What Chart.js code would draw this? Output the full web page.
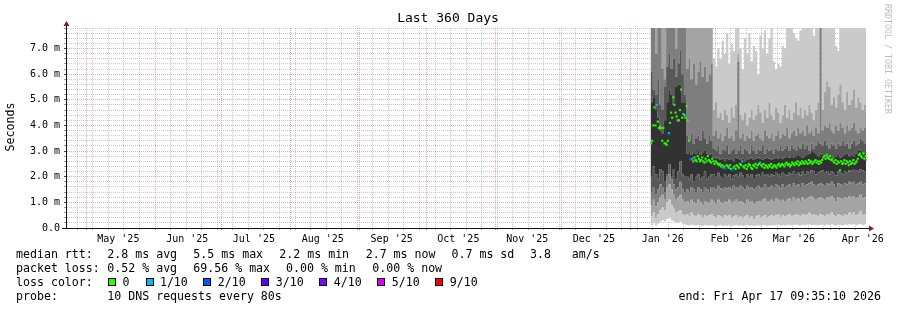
<!DOCTYPE html>
<html>
<head>
<meta charset="utf-8">
<title>Last 360 Days</title>
<script src="https://cdn.jsdelivr.net/npm/chart.js@4.4.1/dist/chart.umd.min.js"></script>
<style>
  body { margin: 0; background: #fff; }
  canvas { display: block; }
</style>
</head>
<body>
<canvas id="smokeChart" width="897" height="310"></canvas>
<script>
// sorted ping times per day (ms), Jan 10 2026 .. Apr 17 2026, one row = one week
const ping1 = [
  0.15, 0.12, 0.2, 0.1, 0.18, 0.25, 0.3,
  0.25, 0.35, 0.4, 0.3, 0.25, 0.2, 0.22,
  0.25, 0.18, 0.15, 0.12, 0.1, 0.14, 0.12,
  0.1, 0.12, 0.1, 0.08, 0.12, 0.1, 0.09,
  0.12, 0.1, 0.08, 0.1, 0.12, 0.08, 0.1,
  0.09, 0.11, 0.08, 0.1, 0.12, 0.09, 0.1,
  0.08, 0.1, 0.12, 0.09, 0.1, 0.08, 0.1,
  0.11, 0.09, 0.1, 0.12, 0.08, 0.1, 0.11,
  0.1, 0.12, 0.14, 0.09, 0.11, 0.1, 0.12,
  0.13, 0.1, 0.12, 0.14, 0.11, 0.1, 0.13,
  0.12, 0.14, 0.15, 0.11, 0.13, 0.12, 0.1,
  0.13, 0.12, 0.1, 0.14, 0.12, 0.15, 0.11,
  0.1, 0.13, 0.12, 0.1, 0.14, 0.12, 0.15,
  0.13, 0.15, 0.11, 0.13, 0.16, 0.12, 0.14
];
const ping2 = [
  0.5, 0.45, 0.6, 0.4, 0.55, 0.7, 0.8,
  0.7, 1.0, 1.1, 0.9, 0.75, 0.6, 0.65,
  0.7, 0.55, 0.5, 0.55, 0.45, 0.6, 0.5,
  0.45, 0.55, 0.5, 0.4, 0.5, 0.45, 0.5,
  0.55, 0.45, 0.4, 0.5, 0.45, 0.4, 0.5,
  0.45, 0.5, 0.4, 0.45, 0.5, 0.4, 0.45,
  0.4, 0.45, 0.5, 0.4, 0.45, 0.35, 0.45,
  0.5, 0.4, 0.45, 0.5, 0.4, 0.45, 0.5,
  0.45, 0.5, 0.55, 0.4, 0.5, 0.45, 0.5,
  0.55, 0.45, 0.5, 0.55, 0.5, 0.45, 0.55,
  0.5, 0.55, 0.6, 0.5, 0.55, 0.5, 0.45,
  0.55, 0.5, 0.45, 0.55, 0.5, 0.6, 0.5,
  0.45, 0.55, 0.5, 0.45, 0.55, 0.5, 0.6,
  0.55, 0.6, 0.5, 0.55, 0.65, 0.5, 0.55
];
const ping3 = [
  1.0, 0.9, 1.1, 0.85, 1.0, 1.2, 1.3,
  1.1, 1.6, 1.7, 1.5, 1.3, 1.1, 1.2,
  1.3, 1.1, 1.0, 1.05, 0.95, 1.1, 1.0,
  0.95, 1.1, 1.0, 0.9, 1.05, 1.0, 0.95,
  1.1, 1.05, 0.95, 1.1, 1.0, 0.95, 1.05,
  1.0, 1.1, 0.95, 1.05, 1.1, 1.0, 1.05,
  1.0, 0.95, 1.1, 1.0, 1.05, 0.95, 1.0,
  1.05, 1.0, 1.1, 1.15, 1.05, 1.0, 1.1,
  1.05, 1.15, 1.1, 1.0, 1.1, 1.05, 1.1,
  1.15, 1.05, 1.2, 1.1, 1.15, 1.05, 1.2,
  1.1, 1.15, 1.2, 1.25, 1.15, 1.1, 1.15,
  1.2, 1.15, 1.1, 1.2, 1.15, 1.25, 1.15,
  1.05, 1.2, 1.15, 1.1, 1.2, 1.15, 1.25,
  1.2, 1.25, 1.15, 1.2, 1.3, 1.15, 1.2
];
const ping4 = [
  1.5, 1.4, 1.6, 1.3, 1.5, 1.7, 1.6,
  1.4, 2.0, 2.1, 1.9, 1.7, 1.5, 1.6,
  1.8, 1.5, 1.4, 1.5, 1.4, 1.6, 1.5,
  1.4, 1.6, 1.5, 1.4, 1.6, 1.5, 1.4,
  1.6, 1.6, 1.5, 1.65, 1.55, 1.5, 1.6,
  1.55, 1.6, 1.5, 1.65, 1.6, 1.55, 1.65,
  1.6, 1.5, 1.65, 1.55, 1.6, 1.5, 1.6,
  1.65, 1.55, 1.6, 1.7, 1.6, 1.55, 1.65,
  1.6, 1.7, 1.65, 1.55, 1.7, 1.6, 1.65,
  1.7, 1.6, 1.75, 1.65, 1.7, 1.6, 1.75,
  1.65, 1.7, 1.75, 1.8, 1.7, 1.65, 1.7,
  1.75, 1.7, 1.65, 1.75, 1.7, 1.8, 1.7,
  1.6, 1.75, 1.7, 1.65, 1.75, 1.7, 1.8,
  1.75, 1.8, 1.7, 1.75, 1.8, 1.7, 1.75
];
const ping5 = [
  2.2, 2.0, 2.4, 2.1, 1.9, 2.3, 2.2,
  1.8, 2.1, 2.5, 2.0, 2.3, 1.9, 2.2,
  2.6, 2.1, 2.0, 2.0, 1.9, 2.1, 1.8,
  2.0, 2.1, 1.9, 2.0, 2.2, 1.9, 2.0,
  2.1, 2.1, 2.0, 2.15, 2.0, 1.95, 2.1,
  2.0, 2.1, 1.9, 2.05, 2.1, 2.0, 2.15,
  2.05, 1.95, 2.1, 2.0, 2.1, 1.95, 2.05,
  2.1, 2.0, 2.15, 2.05, 2.1, 2.0, 2.1,
  2.05, 2.15, 2.1, 2.0, 2.15, 2.1, 2.05,
  2.15, 2.1, 2.2, 2.1, 2.15, 2.05, 2.2,
  2.1, 2.2, 2.15, 2.25, 2.2, 2.1, 2.15,
  2.2, 2.25, 2.15, 2.2, 2.1, 2.2, 2.15,
  2.05, 2.2, 2.15, 2.1, 2.2, 2.15, 2.25,
  2.2, 2.3, 2.25, 2.2, 2.3, 2.25, 2.2
];
const ping6 = [
  4.4, 4.9, 5.1, 4.6, 4.3, 3.8, 3.7,
  4.2, 4.9, 5.4, 5.2, 4.8, 5.5, 5.6,
  5.6, 4.9, 4.9, 2.9, 3.0, 2.85, 2.95,
  2.9, 3.0, 2.85, 2.95, 3.0, 2.9, 2.85,
  2.9, 2.75, 2.7, 2.75, 2.65, 2.7, 2.6,
  2.7, 2.65, 2.7, 2.6, 2.75, 2.7, 2.65,
  2.7, 2.6, 2.65, 2.7, 2.75, 2.65, 2.7,
  2.75, 2.7, 2.65, 2.7, 2.75, 2.7, 2.65,
  2.7, 2.75, 2.7, 2.8, 2.7, 2.75, 2.8,
  2.75, 2.8, 2.75, 2.8, 2.85, 2.8, 2.75,
  2.8, 2.85, 2.9, 3.0, 2.95, 2.85, 2.8,
  2.9, 2.85, 2.8, 2.75, 2.85, 2.8, 2.75,
  2.8, 2.85, 2.75, 2.8, 2.85, 2.9, 2.8,
  2.85, 2.8, 2.9, 3.0, 3.05, 2.95, 2.9
];
const ping7 = [
  5.6, 6.1, 5.4, 5.2, 5.8, 4.8, 4.6,
  5.5, 6.3, 6.8, 6.2, 6.6, 5.9, 6.4,
  6.9, 6.0, 5.2, 3.6, 3.4, 3.7, 3.3,
  3.5, 3.6, 3.4, 3.8, 3.5, 3.3, 3.6,
  3.4, 3.1, 3.0, 3.2, 2.9, 3.1, 3.0,
  3.2, 2.9, 3.0, 3.1, 2.9, 3.0, 3.2,
  2.9, 3.1, 3.0, 2.9, 3.2, 3.0, 2.9,
  3.1, 3.0, 3.2, 2.9, 3.1, 3.0, 3.1,
  2.9, 3.1, 3.0, 3.2, 3.0, 3.1, 3.2,
  3.0, 3.2, 3.1, 3.0, 3.2, 3.1, 3.3,
  3.1, 3.2, 3.0, 3.3, 3.1, 3.2, 3.4,
  3.3, 3.2, 3.4, 3.2, 3.1, 3.3, 3.2,
  3.1, 3.3, 3.2, 3.4, 3.2, 3.3, 3.1,
  3.3, 3.4, 3.2, 3.3, 3.5, 3.4, 3.3
];
const ping8 = [
  8.6, 9.0, 8.4, 6.8, 8.8, 9.1, 6.2,
  5.8, 8.5, 9.2, 8.7, 8.9, 7.0, 8.6,
  9.0, 8.4, 8.8, 6.2, 6.6, 5.8, 6.4,
  5.6, 6.1, 6.5, 5.9, 6.3, 5.7, 6.0,
  6.4, 3.6, 3.8, 3.5, 3.7, 3.4, 3.6,
  3.9, 3.5, 3.6, 3.4, 3.8, 6.5, 3.5,
  3.7, 3.4, 3.6, 3.5, 3.8, 3.4, 3.6,
  3.7, 3.5, 3.4, 3.8, 3.6, 3.5, 3.7,
  3.4, 3.6, 3.8, 3.5, 3.7, 3.6, 3.9,
  3.5, 3.7, 3.8, 3.6, 3.9, 3.7, 3.8,
  3.6, 4.0, 3.7, 3.8, 3.6, 3.9, 3.7,
  9.0, 3.8, 4.0, 3.9, 4.1, 3.8, 3.7,
  4.0, 3.8, 4.1, 3.9, 3.7, 4.0, 3.8,
  3.9, 4.1, 3.8, 3.7, 3.9, 3.8, 3.9
];
const ping9 = [
  10.2, 10.6, 10.4, 10.8, 10.3, 10.5, 10.7,
  10.4, 10.6, 10.3, 10.9, 10.5, 10.7, 10.2,
  10.4, 10.6, 10.1, 9.0, 9.3, 8.8, 9.1,
  9.2, 8.9, 9.4, 9.0, 9.3, 8.7, 9.1,
  9.0, 4.6, 4.9, 4.3, 4.5, 4.2, 4.6,
  4.4, 4.1, 4.7, 4.3, 4.8, 6.8, 4.4,
  4.2, 4.5, 4.0, 4.3, 4.6, 4.2, 4.4,
  4.8, 4.5, 4.1, 4.6, 4.3, 4.9, 4.4,
  4.2, 4.7, 4.5, 4.1, 4.4, 4.8, 4.3,
  4.6, 4.2, 4.5, 4.9, 4.4, 4.7, 4.3,
  4.6, 4.4, 4.8, 4.5, 4.2, 4.6, 4.9,
  9.5, 4.6, 5.3, 5.7, 5.5, 4.8, 5.1,
  4.7, 5.2, 5.6, 4.9, 4.6, 5.3, 4.8,
  5.0, 5.4, 4.7, 5.1, 4.9, 4.6, 4.8
];
const ping10 = [
  11.5, 12.0, 11.8, 12.2, 11.6, 11.9, 12.1,
  11.7, 12.0, 11.8, 12.3, 11.9, 12.0, 11.6,
  11.8, 12.1, 11.9, 10.5, 10.8, 10.2, 10.6,
  10.4, 10.9, 10.3, 10.7, 10.5, 10.2, 10.8,
  10.4, 6.6, 6.3, 7.0, 6.6, 7.3, 6.8,
  7.6, 6.4, 7.2, 6.9, 8.5, 9.0, 7.0,
  6.2, 7.4, 6.8, 7.6, 6.5, 7.1, 6.9,
  6.0, 7.5, 7.0, 7.7, 6.8, 7.4, 8.2,
  6.5, 6.2, 6.4, 6.3, 7.1, 7.0, 8.5,
  9.0, 8.8, 7.6, 7.4, 7.3, 7.7, 8.6,
  9.2, 8.4, 8.8, 9.0, 7.5, 8.7, 9.5,
  10.0, 8.9, 9.1, 8.2, 8.8, 9.3, 8.5,
  7.1, 6.9, 8.4, 8.9, 9.2, 8.3, 9.0,
  8.6, 9.4, 8.8, 9.1, 8.5, 9.0, 8.8
];

// median rtt (ms) every 12 hours from Jan 10 2026
const median = [
  3.3, 3.4, 4.0, 4.7, 4.0, 4.8, 4.15, 3.9, 3.95, 3.9,
  3.4, 3.9, 3.3, 3.3, 3.25, 3.4, 3.7, 4.1, 4.5, 4.3,
  5.1, 4.8, 4.5, 4.35, 4.2, 4.2, 4.6, 5.4, 4.3, 4.45,
  4.4, 4.3, 4.75, 4.2, 3.4, 2.7, 2.65, 2.7, 2.6, 2.75,
  2.65, 2.6, 2.8, 2.7, 2.6, 2.65, 2.75, 2.6, 2.55, 2.7,
  2.6, 2.8, 2.65, 2.6, 2.55, 2.7, 2.6, 2.5, 2.6, 2.55,
  2.5, 2.45, 2.5, 2.4, 2.45, 2.35, 2.4, 2.3, 2.45, 2.4,
  2.35, 2.45, 2.3, 2.25, 2.35, 2.4, 2.3, 2.45, 2.4, 2.35,
  2.5, 2.45, 2.6, 2.4, 2.35, 2.45, 2.3, 2.4, 2.5, 2.45,
  2.35, 2.3, 2.45, 2.4, 2.5, 2.35, 2.45, 2.5, 2.55, 2.45,
  2.4, 2.5, 2.35, 2.45, 2.4, 2.35, 2.45, 2.4, 2.5, 2.35,
  2.4, 2.45, 2.4, 2.35, 2.45, 2.5, 2.4, 2.45, 2.5, 2.45,
  2.4, 2.5, 2.55, 2.45, 2.5, 2.4, 2.45, 2.55, 2.5, 2.45,
  2.55, 2.5, 2.6, 2.45, 2.55, 2.5, 2.6, 2.55, 2.5, 2.6,
  2.55, 2.5, 2.65, 2.55, 2.6, 2.5, 2.55, 2.6, 2.65, 2.55,
  2.6, 2.5, 2.6, 2.55, 2.65, 2.75, 2.8, 2.7, 2.85, 2.75,
  2.7, 2.8, 2.65, 2.7, 2.6, 2.55, 2.65, 2.5, 2.6, 2.55,
  2.25, 2.6, 2.5, 2.55, 2.65, 2.5, 2.6, 2.55, 2.45, 2.6,
  2.5, 2.55, 2.65, 2.5, 2.55, 2.6, 2.7, 2.85, 2.9, 2.8,
  2.75, 2.9, 2.7, 2.8, 2.65
];
// lost pings out of 10 for each median point
const loss = [
  0, 0, 0, 0, 0, 1, 0, 0, 0, 0,
  0, 0, 0, 0, 0, 0, 1, 0, 0, 0,
  0, 0, 0, 0, 0, 0, 0, 0, 0, 1,
  0, 0, 0, 0, 0, 2, 9, 1, 0, 0,
  0, 0, 0, 0, 0, 0, 0, 0, 0, 0,
  0, 0, 0, 0, 0, 0, 0, 0, 0, 0,
  0, 0, 0, 0, 0, 1, 0, 2, 0, 0,
  0, 0, 0, 2, 1, 0, 0, 0, 0, 0,
  0, 0, 1, 0, 0, 0, 0, 0, 0, 0,
  0, 0, 0, 0, 0, 0, 0, 0, 1, 0,
  0, 0, 0, 0, 0, 0, 0, 0, 0, 0,
  0, 0, 0, 0, 0, 0, 0, 0, 0, 0,
  0, 0, 0, 0, 0, 0, 0, 0, 0, 0,
  0, 0, 0, 0, 0, 0, 0, 0, 0, 0,
  0, 0, 0, 0, 0, 0, 0, 0, 0, 0,
  0, 0, 0, 0, 0, 0, 0, 0, 0, 0,
  0, 0, 0, 0, 0, 0, 0, 0, 0, 0,
  0, 0, 0, 0, 0, 0, 0, 0, 0, 0,
  0, 0, 0, 0, 0, 0, 0, 0, 0, 0,
  0, 0, 0, 0, 0
];

const monthLabels = ["May '25", "Jun '25", "Jul '25", "Aug '25", "Sep '25", "Oct '25",
  "Nov '25", "Dec '25", "Jan '26", "Feb '26", "Mar '26", "Apr '26"];
const yTickLabels = ['0.0', '1.0 m', '2.0 m', '3.0 m', '4.0 m', '5.0 m', '6.0 m', '7.0 m'];
const lossLegend = ['0', '1/10', '2/10', '3/10', '4/10', '5/10', '9/10'];
const lossColors = ['#26ff00', '#00b8ff', '#0059ff', '#5e00ff', '#7e00ff', '#dd00ff', '#ff0000'];
const bandColors = ['#cacaca', '#a4a4a4', '#7e7e7e', '#585858', '#323232',
  '#585858', '#7e7e7e', '#a4a4a4', '#cacaca'];

const MONO = 'DejaVu Sans Mono';
const MAJOR = 'rgba(232, 80, 80, 0.5)';
const MINOR = 'rgba(150, 150, 150, 0.5)';

// x axis = days relative to the end of the graph
const DAY = 86400000;
const endTime = Date.UTC(2026, 3, 17, 9, 35, 10);
const toX = t => (t - endTime) / DAY;
const firstDay = Date.UTC(2026, 0, 10);

const lossColor = n => lossColors[n >= 9 ? 6 : Math.min(n, 5)];

// vertical grid: weeks (sundays), month starts, and month labels in the middle
const xTicks = [];
const monthStarts = monthLabels.map((_, k) => toX(Date.UTC(2025, 4 + k, 1)));
for (let t = Date.UTC(2025, 3, 27); t < endTime; t += 7 * DAY) {
    const v = toX(t);
    if (!monthStarts.some(m => Math.abs(m - v) < 0.01)) xTicks.push({ value: v, kind: 'week' });
}
monthStarts.forEach(v => xTicks.push({ value: v, kind: 'month' }));
monthLabels.forEach((txt, k) => {
    xTicks.push({ value: toX(Date.UTC(2025, 4 + k, 15, 12)), kind: 'label', txt });
});
xTicks.sort((a, b) => a.value - b.value);

const yTicks = [];
for (let k = 0; k < 40; k++) yTicks.push({ value: +(k * 0.2).toFixed(1) });
const isMajor = v => Math.abs(v - Math.round(v)) < 1e-6;

// smoke: each band filled between two neighbouring sorted pings
const pings = [ping1, ping2, ping3, ping4, ping5, ping6, ping7, ping8, ping9, ping10];
const datasets = pings.map((vals, k) => ({
    data: vals.map((v, i) => ({ x: toX(firstDay + i * DAY), y: v })),
    stepped: 'after',
    borderWidth: 0,
    borderColor: 'rgba(0,0,0,0)',
    pointRadius: 0,
    backgroundColor: k ? bandColors[k - 1] : 'rgba(0,0,0,0)',
    fill: k ? '-1' : false,
    order: 2
}));
datasets.push({
    data: median.map((v, h) => ({ x: toX(firstDay + h * DAY / 2 + DAY / 4), y: v })),
    showLine: false,
    pointStyle: 'rect',
    pointRadius: 1.5,
    pointBorderWidth: 0,
    pointBorderColor: 'rgba(0,0,0,0)',
    pointBackgroundColor: c => lossColor(loss[c.dataIndex]),
    order: 0
});

// texts, axes and arrows around the plot
const decor = {
    id: 'decor',
    afterDraw(chart) {
        const { ctx, chartArea: a } = chart;
        ctx.save();
        ctx.strokeStyle = '#111';
        ctx.lineWidth = 1;
        ctx.beginPath();
        ctx.moveTo(a.left - 5, a.bottom + 0.5);
        ctx.lineTo(a.right + 2, a.bottom + 0.5);
        ctx.moveTo(a.left - 0.5, a.bottom + 0.5);
        ctx.lineTo(a.left - 0.5, a.top - 2);
        ctx.stroke();

        ctx.fillStyle = '#7f1f1f';
        ctx.beginPath();
        ctx.moveTo(a.right + 7, a.bottom + 0.5);
        ctx.lineTo(a.right + 2, a.bottom - 2.5);
        ctx.lineTo(a.right + 2, a.bottom + 3.5);
        ctx.fill();
        ctx.beginPath();
        ctx.moveTo(a.left - 0.5, a.top - 7);
        ctx.lineTo(a.left - 3.5, a.top - 2);
        ctx.lineTo(a.left + 2.5, a.top - 2);
        ctx.fill();

        ctx.fillStyle = '#000';
        ctx.textBaseline = 'middle';
        ctx.textAlign = 'center';
        ctx.font = `13px "${MONO}"`;
        ctx.fillText('Last 360 Days', 448, 19);

        ctx.font = `11.6px "${MONO}"`;
        ctx.save();
        ctx.translate(11, 127);
        ctx.rotate(-Math.PI / 2);
        ctx.fillText('Seconds', 0, 0);
        ctx.restore();

        ctx.save();
        ctx.fillStyle = '#bdbdbd';
        ctx.font = `8.3px "${MONO}"`;
        ctx.translate(887, 59);
        ctx.rotate(Math.PI / 2);
        ctx.fillText('RRDTOOL / TOBI OETIKER', 0, 0);
        ctx.restore();

        ctx.textAlign = 'left';
        const rows = [
            [254.5, [[16, 'median rtt:'], [107.3, '2.8 ms avg'], [193.3, '5.5 ms max'],
                [279.3, '2.2 ms min'], [365.7, '2.7 ms now'], [451.5, '0.7 ms sd'],
                [530, '3.8'], [571.7, 'am/s']]],
            [268.5, [[16, 'packet loss:'], [107.3, '0.52 % avg'], [193.3, '69.56 % max'],
                [286, '0.00 % min'], [372.3, '0.00 % now']]],
            [282.5, [[16, 'loss color:']]],
            [296.5, [[16, 'probe:'], [107.3, '10 DNS requests every 80s']]]
        ];
        rows.forEach(([y, items]) => items.forEach(([x, s]) => ctx.fillText(s, x, y)));

        const boxX = [108, 145.5, 203.3, 261.3, 319.3, 377.3, 435.3];
        lossLegend.forEach((s, k) => {
            const x = Math.round(boxX[k]);
            ctx.fillStyle = lossColors[k];
            ctx.fillRect(x, 278, 8, 8);
            ctx.strokeStyle = '#000';
            ctx.strokeRect(x + 0.5, 278.5, 7, 7);
            ctx.fillStyle = '#000';
            ctx.fillText(s, boxX[k] + 14.4, 282.5);
        });

        ctx.textAlign = 'right';
        ctx.fillText('end: Fri Apr 17 09:35:10 2026', 881, 296.5);
        ctx.restore();
    }
};

new Chart(document.getElementById('smokeChart'), {
    type: 'line',
    data: { datasets },
    plugins: [decor],
    options: {
        responsive: false,
        animation: false,
        devicePixelRatio: 1,
        events: [],
        layout: { padding: { left: 0, right: 30, top: 28, bottom: 62 }, autoPadding: false },
        plugins: {
            legend: { display: false },
            title: { display: false },
            tooltip: { enabled: false },
            filler: { propagate: false }
        },
        scales: {
            x: {
                type: 'linear',
                min: -360,
                max: 0,
                z: 1,
                afterFit: s => { s.height = 20; },
                afterBuildTicks: s => { s.ticks = xTicks; },
                grid: {
                    color: c => c.tick && c.tick.kind === 'month' ? MAJOR
                        : c.tick && c.tick.kind === 'week' ? MINOR : 'rgba(0,0,0,0)',
                    tickColor: c => c.tick && c.tick.kind === 'month' ? '#d66'
                        : c.tick && c.tick.kind === 'week' ? '#aaa' : 'rgba(0,0,0,0)',
                    tickLength: 2,
                    lineWidth: 1
                },
                border: { display: false, dash: [1, 1] },
                ticks: {
                    autoSkip: false,
                    maxRotation: 0,
                    padding: 3,
                    color: '#000',
                    font: { family: MONO, size: 10 },
                    callback: (v, i, t) => t[i].txt || ''
                }
            },
            y: {
                type: 'linear',
                min: 0,
                max: 7.8,
                z: 1,
                afterFit: s => { s.width = 67; },
                afterBuildTicks: s => { s.ticks = yTicks; },
                grid: {
                    color: c => isMajor(c.tick.value) ? MAJOR : MINOR,
                    tickColor: c => isMajor(c.tick.value) ? '#444' : '#999',
                    tickLength: 3,
                    lineWidth: 1
                },
                border: { display: false, dash: [1, 1] },
                ticks: {
                    autoSkip: false,
                    padding: 4,
                    color: '#000',
                    font: { family: MONO, size: 10 },
                    callback: v => isMajor(v) ? yTickLabels[Math.round(v)] : ''
                }
            }
        }
    }
});
</script>
</body>
</html>
